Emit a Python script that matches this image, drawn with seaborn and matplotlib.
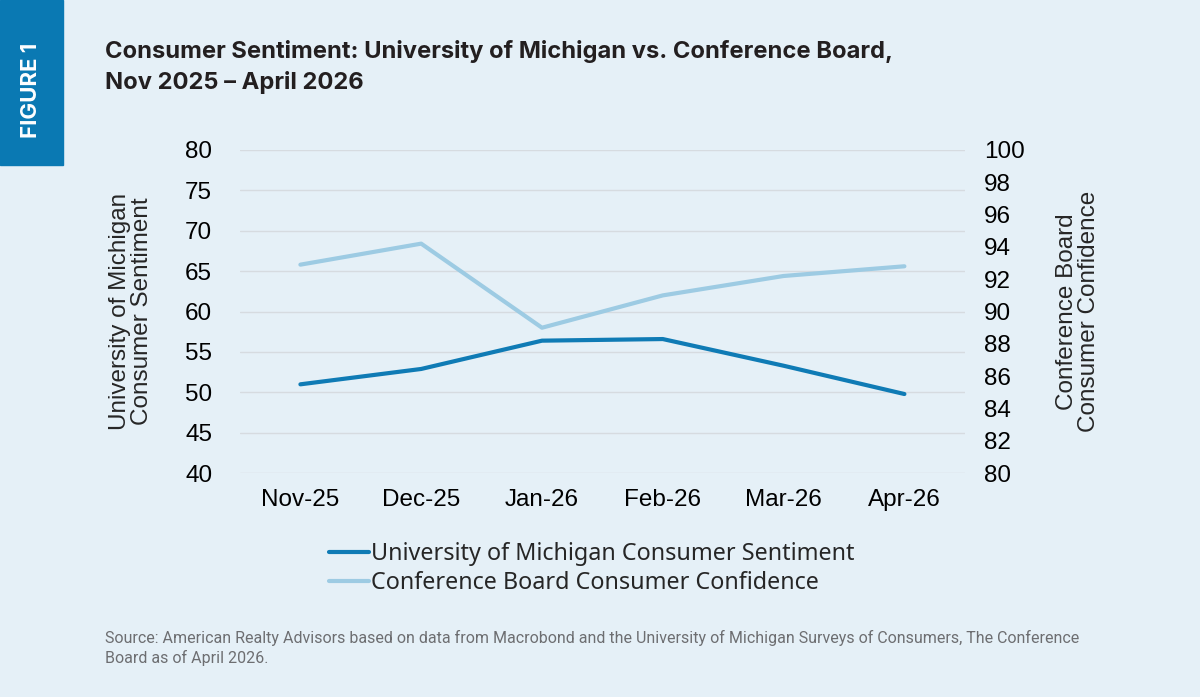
import pandas as pd
import seaborn as sns
import matplotlib.pyplot as plt
from matplotlib.patches import Rectangle

months = ["Nov-25", "Dec-25", "Jan-26", "Feb-26", "Mar-26", "Apr-26"]
umich = [51.0, 52.9, 56.4, 56.6, 53.3, 49.8]
conf_board = [92.9, 94.2, 89.0, 91.0, 92.2, 92.8]

bg = "#e5f0f7"
dark_blue = "#0f7bb5"
light_blue = "#9dcbe3"

df = pd.DataFrame({"month": months, "umich": umich, "cb": conf_board})

sns.set_theme(style="white")
plt.rcParams["font.family"] = ["Liberation Sans", "DejaVu Sans"]

fig = plt.figure(figsize=(12, 6.97), dpi=100, facecolor=bg)
ax = fig.add_axes([0.2, 0.321, 0.604, 0.464], facecolor=bg)
ax2 = ax.twinx()

sns.lineplot(data=df, x="month", y="umich", ax=ax, color=dark_blue, lw=3,
             sort=False, label="University of Michigan Consumer Sentiment", legend=False)
sns.lineplot(data=df, x="month", y="cb", ax=ax2, color=light_blue, lw=3,
             sort=False, label="Conference Board Consumer Confidence", legend=False)

ax.set_ylim(40, 80)
ax.set_yticks(range(40, 81, 5))
ax2.set_ylim(80, 100)
ax2.set_yticks(range(80, 101, 2))
ax.set_xlim(-0.5, 5.5)
ax.yaxis.grid(True, color="#d6dbe0", lw=1)
for a in (ax, ax2):
    for s in a.spines.values():
        s.set_visible(False)
    a.tick_params(length=0, labelsize=17.5, colors="black")
ax.tick_params(axis="x", pad=11)
ax.tick_params(axis="y", pad=20)
ax2.tick_params(axis="y", pad=14)

ax.set_xlabel("")
ax.set_ylabel("University of Michigan\nConsumer Sentiment", fontsize=17.5, linespacing=1.0, labelpad=23)
ax2.set_ylabel("Conference Board\nConsumer Confidence", fontsize=17.5, linespacing=1.0, labelpad=22)

h1, l1 = ax.get_legend_handles_labels()
h2, l2 = ax2.get_legend_handles_labels()
leg = fig.legend(h1 + h2, l1 + l2, loc="center", bbox_to_anchor=(0.493, 0.184),
                 frameon=False, handlelength=1.7, handletextpad=0.1,
                 labelspacing=0.2, prop={"family": "Noto Sans", "size": 16.8})

# figure tab
fig.patches.append(Rectangle((0, 1 - 165 / 697), 63 / 1200, 165 / 697,
                             transform=fig.transFigure, color="#0a79b3", zorder=0))
fig.text(31 / 1200, 1 - 90 / 697, "FIGURE 1", rotation=90, color="white",
         fontsize=16, fontweight="bold", family="Inter", ha="center", va="center")

fig.text(105 / 1200, 1 - 67 / 697,
         "Consumer Sentiment: University of Michigan vs. Conference Board,\nNov 2025 \u2013 April 2026",
         fontsize=17.1, fontweight="bold", family="Inter", color="#231f20",
         ha="left", va="center", linespacing=1.42)

fig.text(105 / 1200, 1 - 648 / 697,
         "Source: American Realty Advisors based on data from Macrobond and the University of Michigan Surveys of Consumers, The Conference\nBoard as of April 2026.",
         fontsize=11.5, family="Roboto", color="#6d6e71", ha="left", va="center", linespacing=1.3)

fig.savefig("out.png", dpi=100, facecolor=bg)
